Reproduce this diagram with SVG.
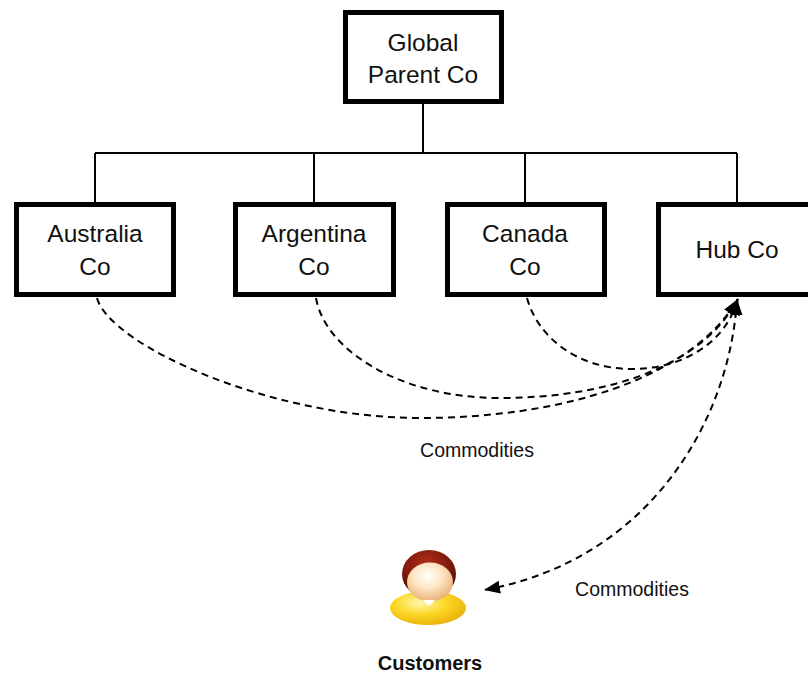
<svg xmlns="http://www.w3.org/2000/svg" width="808" height="673" viewBox="0 0 808 673">
<style>
.box{fill:#ffffff;stroke:#000000;stroke-width:5;stroke-linejoin:miter}
.lbl{font-family:"Liberation Sans",Arial,sans-serif;font-size:24.5px;fill:#111111;text-anchor:middle}
.small{font-family:"Liberation Sans",Arial,sans-serif;font-size:19.5px;fill:#111111;text-anchor:middle}
.bold{font-family:"Liberation Sans",Arial,sans-serif;font-size:20px;font-weight:bold;fill:#111111;text-anchor:middle}
.tree{fill:none;stroke:#000000;stroke-width:2}
.flow{fill:none;stroke:#000000;stroke-width:2;stroke-dasharray:7 5}
</style>
<defs>
<marker id="arr" markerUnits="userSpaceOnUse" markerWidth="18" markerHeight="14" viewBox="0 0 18 14" refX="16" refY="7" orient="auto-start-reverse">
<path d="M0,0.5 L16,7 L0,13.5 z" fill="#000000"/>
</marker>
<radialGradient id="hairG" cx="0.45" cy="0.3" r="0.7">
<stop offset="0" stop-color="#b0301a"/>
<stop offset="0.6" stop-color="#7e1a0c"/>
<stop offset="1" stop-color="#4e0e05"/>
</radialGradient>
<radialGradient id="faceG" cx="0.45" cy="0.35" r="0.7">
<stop offset="0" stop-color="#ffffff"/>
<stop offset="0.45" stop-color="#fde6c4"/>
<stop offset="1" stop-color="#e7a86a"/>
</radialGradient>
<radialGradient id="bodyG" cx="0.4" cy="0.35" r="0.75">
<stop offset="0" stop-color="#fff8b0"/>
<stop offset="0.45" stop-color="#fbd828"/>
<stop offset="1" stop-color="#e6aa00"/>
</radialGradient>
</defs>

<g id="connectors">
<path class="tree" d="M423,104 V153 M95,153 H737 M95,153 V202 M314,153 V202 M525,153 V202 M737,153 V202"/>
<path class="flow" d="M97,298 C110,345 270,418 420,418 C560,418 690,380 738,299" marker-end="url(#arr)"/>
<path class="flow" d="M316,298 C325,350 400,398 500,398 C600,398 700,370 738,299" marker-end="url(#arr)"/>
<path class="flow" d="M527,298 C537,335 575,369 632,369 C680,369 725,345 738,299" marker-end="url(#arr)"/>
<path class="flow" d="M737,299 C730,420 650,560 484,590" marker-start="url(#arr)" marker-end="url(#arr)"/>
<text class="small" x="477" y="457">Commodities</text>
<text class="small" x="632" y="596">Commodities</text>
</g>

<g id="global-parent-co">
<rect class="box" x="345.5" y="12.5" width="156" height="89"/>
<text class="lbl" x="423" y="51">Global</text>
<text class="lbl" x="423" y="83">Parent Co</text>
</g>

<g id="australia-co">
<rect class="box" x="16.5" y="204.5" width="157" height="90"/>
<text class="lbl" x="95" y="242">Australia</text>
<text class="lbl" x="95" y="275">Co</text>
</g>

<g id="argentina-co">
<rect class="box" x="235.5" y="204.5" width="158" height="90"/>
<text class="lbl" x="314" y="242">Argentina</text>
<text class="lbl" x="314" y="275">Co</text>
</g>

<g id="canada-co">
<rect class="box" x="447.5" y="204.5" width="157" height="90"/>
<text class="lbl" x="525" y="242">Canada</text>
<text class="lbl" x="525" y="275">Co</text>
</g>

<g id="hub-co">
<rect class="box" x="658.5" y="204.5" width="157" height="90"/>
<text class="lbl" x="737" y="258">Hub Co</text>
</g>

<g id="customers">
<ellipse cx="428" cy="608" rx="38" ry="17" fill="url(#bodyG)"/>
<ellipse cx="429" cy="574" rx="27" ry="24" fill="url(#hairG)"/>
<ellipse cx="430" cy="582" rx="23" ry="19.5" fill="url(#faceG)"/>
<path d="M423,600 L435,600 L429,606 z" fill="#ffffff"/>
<text class="bold" x="430" y="670">Customers</text>
</g>
</svg>
